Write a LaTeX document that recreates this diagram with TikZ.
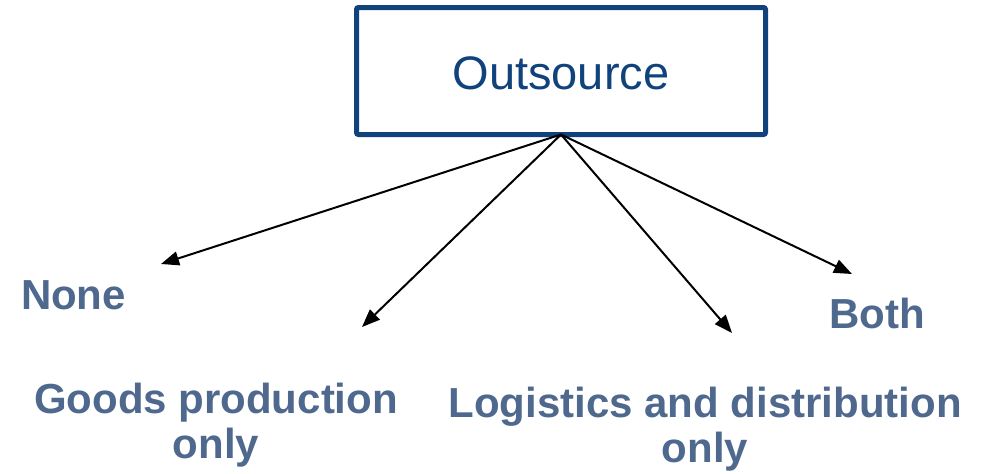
\documentclass[tikz,border=0pt]{standalone}
\usepackage{fontspec}
\setmainfont{Liberation Sans}
\usetikzlibrary{arrows.meta}
\definecolor{boxblue}{RGB}{16,66,124}
\definecolor{labelblue}{RGB}{79,105,142}
\tikzset{
  topbox/.style={draw=boxblue, line width=5pt, rounded corners=2pt,
    minimum width=409pt, minimum height=127pt, inner sep=0pt, outer sep=0pt,
    text=boxblue, font=\fontsize{47}{52}\selectfont},
  choice/.style={text=labelblue, font=\bfseries\fontsize{42}{45}\selectfont,
    align=center, inner sep=0pt, anchor=base},
  branch/.style={draw=black, line width=2pt,
    -{Triangle[length=18pt,width=14pt]}}
}
\begin{document}
\begin{tikzpicture}[x=1pt,y=-1pt]
  \useasboundingbox (0,0) rectangle (983,474);
  % the decision box
  \node[topbox] (out) at (561,71) {};
  \node[text=boxblue, font=\fontsize{47}{52}\selectfont, inner sep=0pt, anchor=base]
    (outtxt) at (561,89) {Outsource};
  % the four outcomes (base anchor sits on the last line)
  \node[choice] (none) at (73.5,309) {None};
  \node[choice] (goods) at (216,458) {Goods production\\only};
  \node[choice] (logi) at (705,462) {Logistics and distribution\\only};
  \node[choice] (both) at (877,328) {Both};
  % arrow ends just off each label
  \coordinate (tnone) at (161,264);
  \coordinate (tgoods) at (362,327);
  \coordinate (tlogi) at (732,333);
  \coordinate (tboth) at (852,274);
  \draw[branch] (out.south) -- (tnone);
  \draw[branch] (out.south) -- (tgoods);
  \draw[branch] (out.south) -- (tlogi);
  \draw[branch] (out.south) -- (tboth);
\end{tikzpicture}
\end{document}
